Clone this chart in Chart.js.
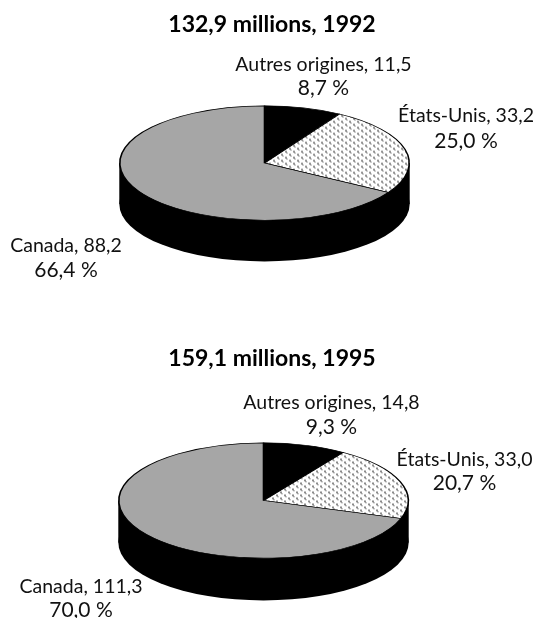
<!DOCTYPE html>
<html><head><meta charset="utf-8">
<script src="https://cdn.jsdelivr.net/npm/chart.js@4"></script>
<style>
html,body{margin:0;padding:0;background:#fff;width:537px;height:618px;overflow:hidden}
canvas{position:absolute;left:0}
</style></head><body>
<canvas id="c1" width="537" height="400" style="top:0"></canvas>
<canvas id="c2" width="537" height="400" style="top:309px"></canvas>
<script>
const categories = ["Autres origines", "États-Unis", "Canada"];
const values1992 = [11.5, 33.2, 88.2];
const percents1992 = [8.7, 25.0, 66.4];
const values1995 = [14.8, 33.0, 111.3];
const percents1995 = [9.3, 20.7, 70.0];
const title1992 = "132,9 millions, 1992";
const title1995 = "159,1 millions, 1995";
const FONT = "Lato, 'Open Sans', sans-serif";

function hatch(k){
  const t=document.createElement('canvas');t.width=8;t.height=6;
  const c=t.getContext('2d');
  c.fillStyle='#fff';c.fillRect(0,0,8,6);
  c.fillStyle='#000';c.fillRect(1,1,1,1);c.fillRect(5,4,1,1);
  c.fillStyle='#555';c.fillRect(2,2,1,1);c.fillRect(6,5,1,1);c.fillRect(1,0,1,1);c.fillRect(5,3,1,1);
  const p=document.createElement('canvas').getContext('2d').createPattern(t,'repeat');
  p.setTransform(new DOMMatrix().scale(1,1/k));
  return p;
}
const fmt=(v,d)=>v.toFixed(d).replace('.',',');

const pie3d={
  id:'pie3d',
  beforeDatasetsDraw(chart,a,o){
    const ctx=chart.ctx,arc=chart.getDatasetMeta(0).data[0];
    const R=arc.outerRadius,dy=o.depth/o.k;
    ctx.save();
    ctx.translate(o.cx,o.cy);ctx.scale(1,o.k);ctx.translate(-arc.x,-arc.y);
    ctx.fillStyle='#000';
    ctx.beginPath();ctx.arc(arc.x,arc.y+dy,R+0.5,0,Math.PI*2);ctx.fill();
    ctx.fillRect(arc.x-R-0.5,arc.y,2*R+1,dy);
  },
  afterDatasetsDraw(chart){chart.ctx.restore();},
  afterDraw(chart,a,o){
    const ctx=chart.ctx;
    ctx.save();
    ctx.fillStyle='#111';ctx.textAlign='center';ctx.textBaseline='middle';
    o.labels.forEach((l,i)=>{
      ctx.font="19.5px "+FONT;
      ctx.fillText(categories[i]+", "+fmt(o.values[i],1),l[0],l[1]);
      ctx.font="21px "+FONT;
      ctx.fillText(fmt(o.percents[i],1)+" %",l[0],l[2]);
    });
    ctx.restore();
  }
};

function make(id,vals,pcts,title,opt){
  new Chart(document.getElementById(id),{
    type:'pie',
    data:{labels:categories,datasets:[{data:vals,
      backgroundColor:['#000000',hatch(opt.k),'#a6a6a6'],
      borderColor:'#000',borderWidth:1.6,borderJoinStyle:'round',clip:false}]},
    plugins:[pie3d],
    options:{responsive:false,animation:false,events:[],rotation:0,
      layout:{padding:{left:126.5,right:119.5,top:opt.top,bottom:0}},
      plugins:{legend:{display:false},tooltip:{enabled:false},
        title:{display:true,text:title,color:'#000',font:{family:FONT,size:23,weight:'bold'},padding:{top:0,bottom:4}},
        pie3d:{cx:opt.cx,cy:opt.cy,k:opt.k,depth:opt.depth,labels:opt.labels,values:vals,percents:pcts}}}
  });
}
// label anchors: [x, line 1 y, line 2 y]
make('c1',values1992,percents1992,title1992,{top:11,cx:264.5,cy:163,k:57.5/145.5,depth:41,
  labels:[[323.5,65,88],[466,116,141],[66,246,270]]});
make('c2',values1995,percents1995,title1995,{top:36,cx:263.5,cy:191.5,k:58/145.5,depth:42,
  labels:[[331.5,94,118],[464.5,151,174],[81,278,301]]});
</script>
</body></html>
